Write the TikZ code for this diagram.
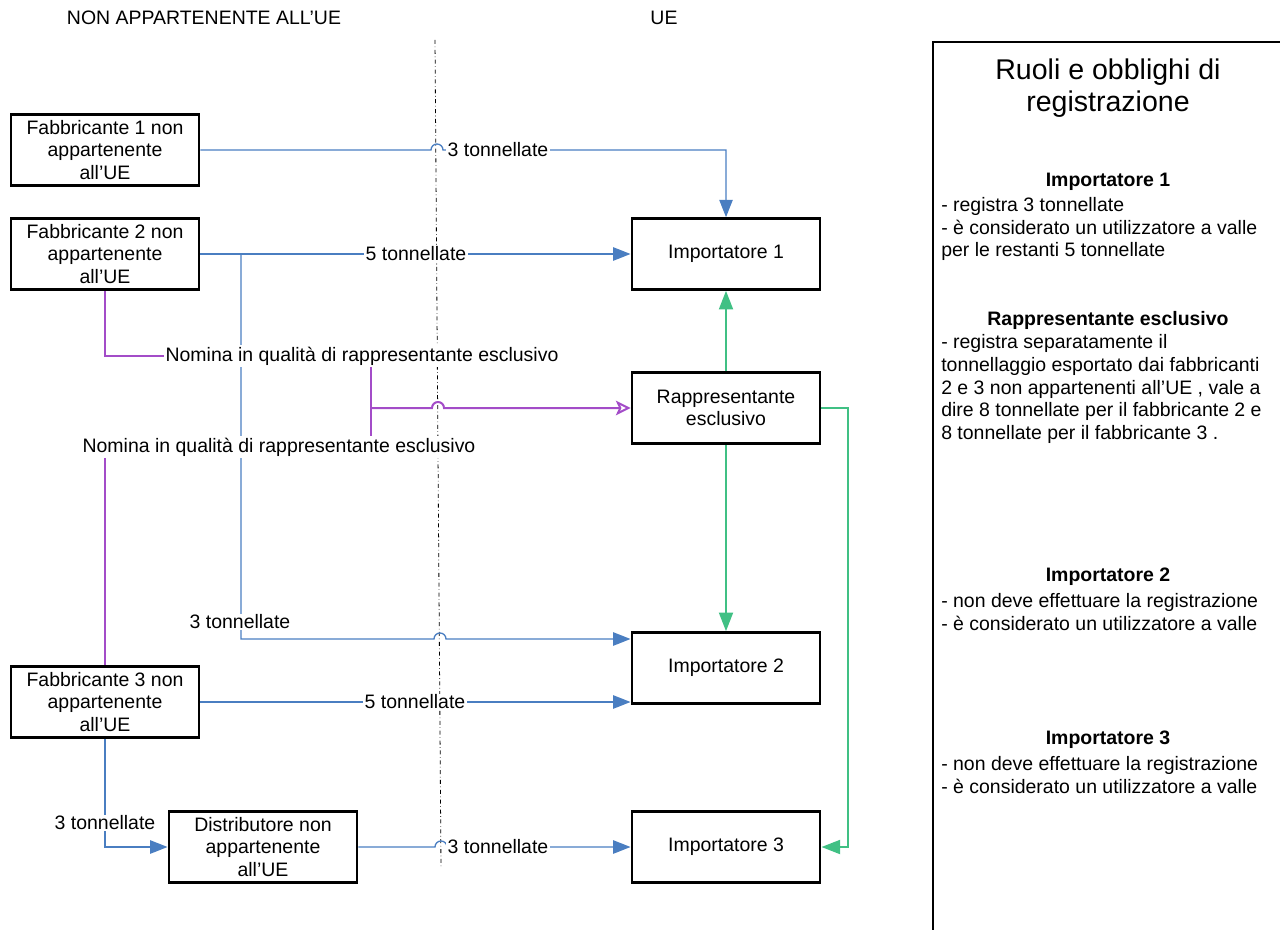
\documentclass[tikz,border=0pt]{standalone}
\usepackage{fontspec}
\setmainfont{Liberation Sans}
\usetikzlibrary{arrows.meta,backgrounds}

\definecolor{flowblue}{RGB}{74,126,193}
\definecolor{repviolet}{RGB}{163,76,200}
\definecolor{regreen}{RGB}{64,192,132}

\newcommand{\bodyfont}{\fontsize{14.6}{16.9}\selectfont}

\begin{document}
\begin{tikzpicture}[x=0.75pt, y=-0.75pt, font=\bodyfont]

% actor style
\tikzstyle{box} = [
    draw,
    line width=2.2pt,
    fill=white,
    align=center,
    minimum width=141pt,
    minimum height=53pt,
    inner sep=2pt
]

% quantity label style
\tikzstyle{qty} = [
    fill=white,
    inner sep=1pt
]

% connector styles
\tikzstyle{flow} = [draw=flowblue, line width=1pt, -{Triangle[length=13pt, width=10pt]}]
\tikzstyle{nominate} = [draw=repviolet, line width=1.5pt]
\tikzstyle{register} = [draw=regreen, line width=1.5pt, -{Triangle[length=14pt, width=10.5pt]}]
\tikzstyle{border} = [draw, dash dot, line width=0.6pt]

% right panel styles
\tikzstyle{panel} = [draw, line width=2pt]
\tikzstyle{rolehead} = [font=\bodyfont\bfseries]
\tikzstyle{roletext} = [anchor=west, align=left, inner sep=0pt]

\useasboundingbox (0,0) rectangle (1280,930);

% Headers.
\node (nonue) at (204,18) {NON APPARTENENTE ALL’UE};
\node (ue) at (664,18) {UE};

% Place the nodes.
\node[box] (fab1) at (105,150) {Fabbricante 1 non\\appartenente\\all’UE};
\node[box] (fab2) at (105,254) {Fabbricante 2 non\\appartenente\\all’UE};
\node[box] (fab3) at (105,702) {Fabbricante 3 non\\appartenente\\all’UE};
\node[box] (dist) at (263,847) {Distributore non\\appartenente\\all’UE};

\node[box] (imp1) at (726,254) {Importatore 1};
\node[box] (rapp) at (726,408) {Rappresentante\\esclusivo};
\node[box] (imp2) at (726,668) {Importatore 2};
\node[box] (imp3) at (726,847) {Importatore 3};

% Labels on the connectors.
\node[qty] (q1) at (498,150) {3 tonnellate};
\node[qty] (q2) at (416,254) {5 tonnellate};
\node[qty] (q3) at (240,622) {3 tonnellate};
\node[qty] (q4) at (415,702) {5 tonnellate};
\node[qty] (q5) at (105,823) {3 tonnellate};
\node[qty] (q6) at (498,847) {3 tonnellate};
\node[qty] (nom1) at (362,356) {Nomina in qualità di rappresentante esclusivo};
\node[qty] (nom2) at (279,447) {Nomina in qualità di rappresentante esclusivo};

% Border line and crossing points.
\coordinate (divtop) at (435,40);
\coordinate (divbot) at (441,868);
\coordinate (h1) at (437,150);
\coordinate (br2) at (241,254);
\coordinate (h3) at (440,639);
\coordinate (h6) at (441,847);
\coordinate (jn) at (371,408);
\coordinate (h7) at (438,408);

% Connect the nodes.
\begin{scope}[on background layer]
\draw[border] (divtop) -- (divbot);

\draw[flow] (fab1.east) -- ([xshift=-4.5pt]h1) arc[start angle=180, end angle=0, radius=4.5pt] -| (imp1.north);
\draw[flow] (fab2.east) -- (imp1.west);
\draw[flow] (br2) |- ([xshift=-4.5pt]h3) arc[start angle=180, end angle=0, radius=4.5pt] -- (h3 -| imp2.west);
\draw[flow] (fab3.east) -- (fab3.east -| imp2.west);
\draw[flow] (fab3.south) |- (dist.west);
\draw[flow] (dist.east) -- ([xshift=-4.5pt]h6) arc[start angle=180, end angle=0, radius=4.5pt] -- (imp3.west);

\draw[nominate] (fab2.south) |- (nom1.west);
\draw[nominate] (nom1.south -| jn) -- (nom2.north -| jn);
\draw[nominate, -{Stealth[open, length=11pt, width=11pt, inset=2.5pt]}] (jn) -- ([xshift=-4.5pt]h7) arc[start angle=180, end angle=0, radius=4.5pt] -- (rapp.west);
\draw[nominate] (nom2.south -| fab3.north) -- (fab3.north);

\draw[register] (rapp.north) -- (imp1.south);
\draw[register] (rapp.south) -- (imp2.north);
\draw[register] (rapp.east) -- ++(27,0) |- (imp3.east);
\end{scope}

% Right panel.
\draw[panel] (1290,42) -| (933,940);
\node[align=center, font=\fontsize{21.4}{24}\selectfont] (title) at (1108,88) {Ruoli e obblighi di\\registrazione};

\node[rolehead] (imp1head) at (1108,182) {Importatore 1};
\node[roletext] (imp1text) at (941,229) {- registra 3 tonnellate\\- è considerato un utilizzatore a valle\\per le restanti 5 tonnellate};

\node[rolehead] (rapphead) at (1108,320) {Rappresentante esclusivo};
\node[roletext] (rapptext) at (941,389) {- registra separatamente il\\tonnellaggio esportato dai fabbricanti\\2 e 3 non appartenenti all’UE , vale a\\dire 8 tonnellate per il fabbricante 2 e\\8 tonnellate per il fabbricante 3 .};

\node[rolehead] (imp2head) at (1108,577) {Importatore 2};
\node[roletext] (imp2text) at (941,612) {- non deve effettuare la registrazione\\- è considerato un utilizzatore a valle};

\node[rolehead] (imp3head) at (1108,740) {Importatore 3};
\node[roletext] (imp3text) at (941,775) {- non deve effettuare la registrazione\\- è considerato un utilizzatore a valle};

\end{tikzpicture}
\end{document}
